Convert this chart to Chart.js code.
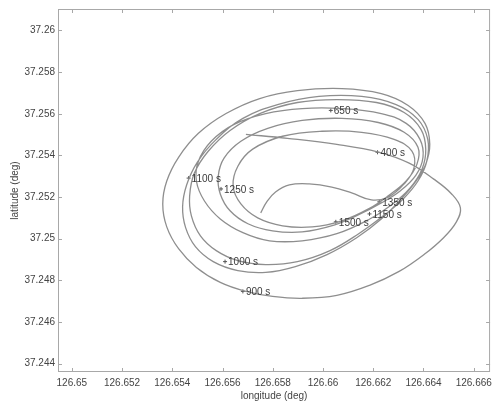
<!DOCTYPE html>
<html lang="en">
<head>
    <meta charset="UTF-8">
    <title>Trajectory</title>
    <script src="https://cdn.jsdelivr.net/npm/chart.js"></script>
    <style>
        html, body { margin: 0; padding: 0; background: #fff; }
        #track { display: block; }
    </style>
</head>
<body>
    <canvas id="track" width="497" height="403"></canvas>

    <script>
        // Track (deg)
        const lon = [
            126.65693, 126.65858, 126.66055, 126.66224, 126.66343, 126.66441, 126.66512, 126.66547, 126.66531, 126.6648,
            126.66402, 126.66303, 126.66185, 126.66055, 126.65917, 126.65799, 126.65693, 126.65591, 126.65496, 126.65425,
            126.65378, 126.65362, 126.65378, 126.65425, 126.65504, 126.65614, 126.65748, 126.65898, 126.66075, 126.66232,
            126.66339, 126.66406, 126.66425, 126.66409, 126.6637, 126.66311,
            126.66232, 126.66134, 126.66016, 126.6589, 126.65772, 126.65661, 126.65563, 126.65492, 126.65453, 126.65441,
            126.65457, 126.655, 126.65575, 126.65681, 126.65819, 126.65984, 126.66154, 126.66291, 126.66378, 126.66417,
            126.66413, 126.66378, 126.66319,
            126.6624, 126.66142, 126.66028, 126.65898, 126.65772, 126.65661, 126.65575, 126.65512, 126.65476, 126.65469,
            126.65488, 126.65543, 126.6563, 126.65748, 126.65898, 126.66055, 126.66213, 126.66323, 126.6639, 126.66409,
            126.66394, 126.66346,
            126.66272, 126.66181, 126.66055, 126.65917, 126.65787, 126.65681, 126.65591, 126.65528, 126.65496, 126.65504,
            126.65555, 126.65646, 126.65772, 126.65917, 126.66075, 126.66232, 126.66331, 126.66386, 126.66398, 126.6637,
            126.66307,
            126.66232, 126.66142, 126.66047, 126.65917, 126.65799, 126.65701, 126.6563, 126.65591, 126.65583, 126.65606,
            126.65673, 126.6578, 126.65917, 126.66075, 126.6622, 126.66323, 126.66378, 126.66374, 126.66331, 126.66264,
            126.66181, 126.66075, 126.65957, 126.65839, 126.6574, 126.65673, 126.65642, 126.65661, 126.6572, 126.65839,
            126.65996, 126.66154, 126.66283, 126.66354, 126.66362, 126.66323, 126.6626,
            126.66193, 126.66114, 126.66035, 126.65945, 126.65866, 126.65811, 126.65776, 126.65752
        ];
        const lat = [
            37.25501, 37.25482, 37.25453, 37.25415, 37.25363, 37.25286, 37.25215, 37.25148, 37.25081, 37.25005,
            37.24924, 37.24843, 37.24776, 37.24728, 37.24714, 37.24723, 37.24747, 37.2479, 37.24862, 37.24952,
            37.25057, 37.25167, 37.25277, 37.25391, 37.25506, 37.25601, 37.25673, 37.25711, 37.25721, 37.25697,
            37.2564, 37.25554, 37.25453, 37.25358, 37.25277, 37.25191,
            37.25095, 37.25005, 37.24924, 37.24866, 37.24838, 37.24847, 37.2489, 37.24962, 37.25053, 37.25153,
            37.25258, 37.25368, 37.25477, 37.25578, 37.25644, 37.25683, 37.25683, 37.25644, 37.25573, 37.25477,
            37.25372, 37.25277, 37.25191,
            37.2511, 37.25024, 37.24943, 37.2489, 37.24876, 37.24895, 37.24943, 37.25014, 37.2511, 37.25205,
            37.25315, 37.2542, 37.2552, 37.25601, 37.25654, 37.25668, 37.25654, 37.25606, 37.25525, 37.2543,
            37.25334, 37.25243,
            37.25162, 37.25091, 37.25024, 37.2499, 37.2499, 37.25029, 37.25095, 37.25181, 37.25277, 37.25372,
            37.25468, 37.25549, 37.25601, 37.25625, 37.25625, 37.25601, 37.25554, 37.25477, 37.25391, 37.25305,
            37.25229,
            37.25172, 37.25115, 37.25067, 37.25033, 37.25038, 37.25072, 37.25134, 37.25215, 37.25301, 37.25387,
            37.25468, 37.2553, 37.25568, 37.25578, 37.25558, 37.25511, 37.25439, 37.25358, 37.25277, 37.2521,
            37.25143, 37.25086, 37.25057, 37.25062, 37.251, 37.25167, 37.25253, 37.25348, 37.2543, 37.25492,
            37.25516, 37.25511, 37.25477, 37.2542, 37.25339, 37.25263, 37.252,
            37.25186, 37.2522, 37.25248, 37.25263, 37.25258, 37.25224, 37.25177, 37.25124
        ];

        // Time stamps along the track
        const markText = ['400 s', '650 s', '900 s', '1000 s', '1100 s', '1150 s', '1250 s', '1350 s', '1500 s'];
        const markLon = [126.66217, 126.66031, 126.65681, 126.6561, 126.65465, 126.66185, 126.65594, 126.66224, 126.66051];
        const markLat = [37.25415, 37.25616, 37.24747, 37.2489, 37.25291, 37.25119, 37.25239, 37.25177, 37.25081];

        const xTicks = [126.65, 126.652, 126.654, 126.656, 126.658, 126.66, 126.662, 126.664, 126.666];
        const yTicks = [37.244, 37.246, 37.248, 37.25, 37.252, 37.254, 37.256, 37.258, 37.26];

        const fmt = v => String(Number(v.toFixed(3)));
        const font = { family: 'Liberation Sans, Arial, sans-serif', size: 10 };

        // box round the plot with inward ticks on all four sides
        const frame = {
            id: 'frame',
            afterDatasetsDraw(chart) {
                const { ctx, chartArea: a, scales } = chart;
                ctx.save();
                ctx.strokeStyle = '#a8a8a8';
                ctx.lineWidth = 1;
                ctx.strokeRect(a.left + 0.5, a.top + 0.5, a.right - a.left - 1, a.bottom - a.top - 1);
                ctx.beginPath();
                xTicks.forEach(v => {
                    const x = Math.round(scales.x.getPixelForValue(v)) + 0.5;
                    ctx.moveTo(x, a.bottom); ctx.lineTo(x, a.bottom - 4);
                    ctx.moveTo(x, a.top); ctx.lineTo(x, a.top + 4);
                });
                yTicks.forEach(v => {
                    const y = Math.round(scales.y.getPixelForValue(v)) + 0.5;
                    ctx.moveTo(a.left, y); ctx.lineTo(a.left + 4, y);
                    ctx.moveTo(a.right, y); ctx.lineTo(a.right - 4, y);
                });
                ctx.stroke();

                // time labels
                ctx.fillStyle = '#3a3a3a';
                ctx.font = '10px ' + font.family;
                ctx.textBaseline = 'middle';
                markText.forEach((t, i) => {
                    const x = scales.x.getPixelForValue(markLon[i]);
                    const y = scales.y.getPixelForValue(markLat[i]);
                    ctx.fillText(t, x + 3, y + 1);
                });
                ctx.restore();
            }
        };

        const points = lon.map((v, i) => ({ x: v, y: lat[i] }));
        const marks = markLon.map((v, i) => ({ x: v, y: markLat[i] }));

        new Chart(document.getElementById('track'), {
            type: 'scatter',
            data: {
                datasets: [{
                    data: points,
                    showLine: true,
                    borderColor: '#8e8e8e',
                    borderWidth: 1.3,
                    pointRadius: 0,
                    tension: 0.4
                }, {
                    data: marks,
                    pointStyle: 'cross',
                    pointRadius: 2,
                    borderColor: '#555',
                    borderWidth: 1
                }]
            },
            options: {
                responsive: false,
                animation: false,
                layout: { padding: { top: 7, right: 2, left: 0, bottom: 0 } },
                plugins: { legend: { display: false }, tooltip: { enabled: false } },
                scales: {
                    x: {
                        type: 'linear',
                        min: 126.64945,
                        max: 126.66665,
                        grid: { display: false, drawTicks: false },
                        border: { display: false },
                        afterBuildTicks: s => { s.ticks = xTicks.map(v => ({ value: v })); },
                        afterFit: s => { s.height = 31; },
                        ticks: { font, color: '#444', padding: 5, maxRotation: 0, autoSkip: false, callback: fmt },
                        title: { display: true, text: 'longitude (deg)', font, color: '#444', padding: 1 }
                    },
                    y: {
                        type: 'linear',
                        min: 37.2436,
                        max: 37.26103,
                        grid: { display: false, drawTicks: false },
                        border: { display: false },
                        afterBuildTicks: s => { s.ticks = yTicks.map(v => ({ value: v })); },
                        afterFit: s => { s.width = 58; },
                        ticks: { font, color: '#444', padding: 3, autoSkip: false, callback: fmt },
                        title: { display: true, text: 'latitude (deg)', font, color: '#444', padding: 9 }
                    }
                }
            },
            plugins: [frame]
        });
    </script>
</body>
</html>
